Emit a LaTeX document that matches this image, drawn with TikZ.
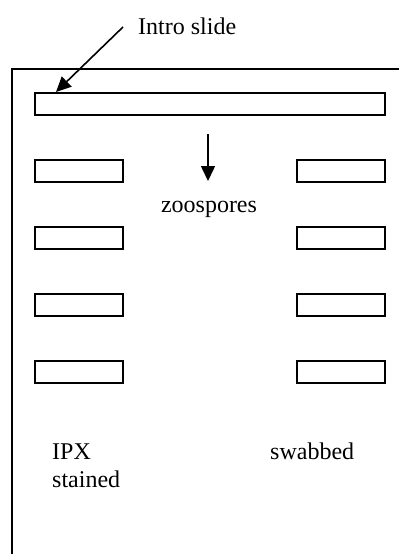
\documentclass[tikz,border=0pt]{standalone}
\usepackage{fontspec}
\setmainfont{Liberation Serif}
\usetikzlibrary{arrows.meta}
\begin{document}
\begin{tikzpicture}[x=1pt,y=-1pt,
  slot/.style={draw=black,line width=1.6pt,minimum height=22pt,inner sep=0pt,anchor=north west},
  small/.style={slot,minimum width=88pt},
  lbl/.style={anchor=base west,inner sep=0pt,font=\fontsize{24}{28}\selectfont,align=left},
  arr/.style={line width=1.6pt,-{Triangle[length=15pt,width=14pt]}}]
\useasboundingbox (0,0) rectangle (399,554);
\fill[white] (0,0) rectangle (399,554);
% frame
\draw[line width=1.6pt] (399,69) -- (12,69) -- (12,554);
% intro bar
\node[slot,minimum width=350pt] (intro) at (34,92) {};
% left column
\node[small] (l1) at (34,159) {};
\node[small] (l2) at (34,226) {};
\node[small] (l3) at (34,293) {};
\node[small] (l4) at (34,360) {};
% right column
\node[small] (r1) at (296,159) {};
\node[small] (r2) at (296,226) {};
\node[small] (r3) at (296,293) {};
\node[small] (r4) at (296,360) {};
% labels
\node[lbl] (introtxt) at (138,34) {Intro slide};
\node[lbl,anchor=base] (zoo) at (209,212) {zoospores};
\node[lbl] (ipx) at (52,487) {IPX\\stained};
\node[lbl] (swab) at (270,459) {swabbed};
% arrows
\coordinate (ia) at (123,27);
\coordinate (itip) at (56,92);
\draw[arr] (ia) -- (itip);
\coordinate (da) at (208,134);
\coordinate (dtip) at (208,181);
\draw[arr] (da) -- (dtip);
\end{tikzpicture}
\end{document}
